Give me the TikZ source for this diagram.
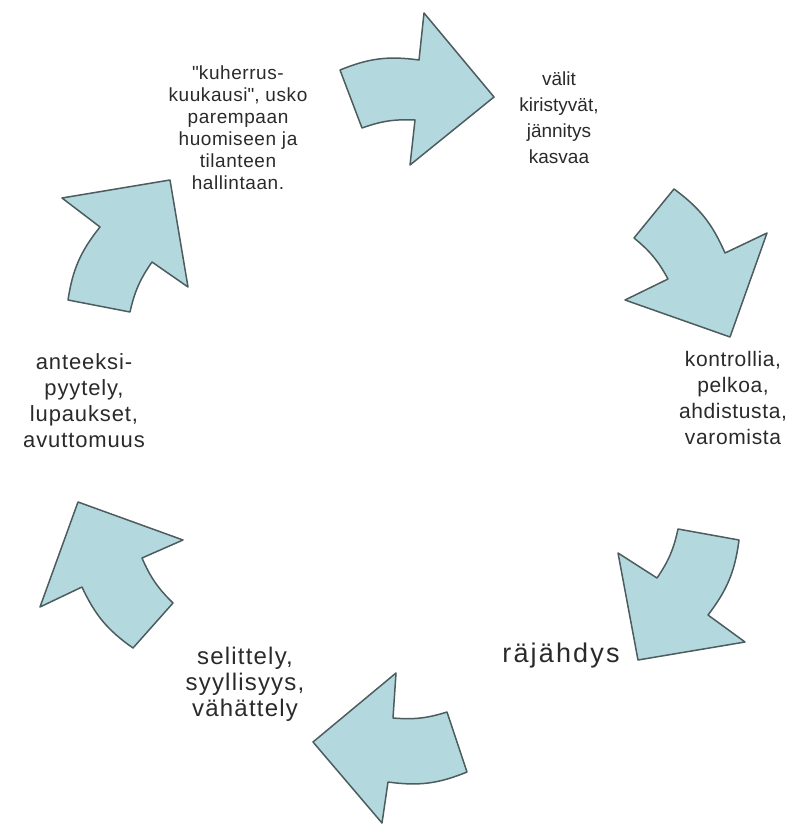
\documentclass[tikz,border=0pt]{standalone}
\usepackage{fontspec}
\setmainfont{Liberation Sans}
\definecolor{arrowc}{HTML}{B3D9DE}
\definecolor{edgec}{HTML}{4D5C5E}
\definecolor{textc}{HTML}{2A2A2A}
\tikzset{
  cyclearrow/.style ={draw=edgec,fill=arrowc,line width=1.5pt,line join=round},
  stage/.style      ={align=center,inner sep=0pt,text=textc,
                      font=\fontsize{20}{26}\selectfont},
  smallstage/.style ={stage,font=\fontsize{19}{22}\selectfont\addfontfeature{LetterSpace=3}},
}

\begin{document}
\begin{tikzpicture}[x=1pt,y=-1pt]
    \useasboundingbox (0,0) rectangle (793,826);

    % cycle arrows, clockwise from the top
    \draw[cyclearrow] (340,70) to[bend left=15] (419,60) -- (424,13) -- (494,97)
      -- (410,165) -- (415,120) to[bend right=11] (362,128) -- cycle;
    \draw[cyclearrow] (674,189) to[bend left=15] (725,253) -- (767,233) -- (730,337)
      -- (625,300) -- (668,279) to[bend right=11] (634,238) -- cycle;
    \draw[cyclearrow] (739,540) to[bend left=15] (708,615) -- (745,642) -- (638,660)
      -- (618,553) -- (657,578) to[bend right=11] (678,529) -- cycle;
    \draw[cyclearrow] (467,772) to[bend left=15] (388,782) -- (382,823) -- (313,742)
      -- (396,673) -- (393,718) to[bend right=11] (447,712) -- cycle;
    \draw[cyclearrow] (133,648) to[bend left=15] (82,587) -- (40,607) -- (78,502)
      -- (183,540) -- (142,558) to[bend right=11] (173,603) -- cycle;
    \draw[cyclearrow] (68,300) to[bend left=15] (100,227) -- (62,198) -- (170,180)
      -- (188,287) -- (152,262) to[bend right=11] (130,312) -- cycle;

    % stage labels
    \node[stage,font=\fontsize{19}{26}\selectfont] (tension) at (559,118)
      {välit\\kiristyvät,\\jännitys\\kasvaa};
    \node[stage,font=\fontsize{21}{26}\selectfont\addfontfeature{LetterSpace=3}] (fear) at (733,398)
      {kontrollia,\\pelkoa,\\ahdistusta,\\varomista};
    \node[stage,font=\fontsize{27}{26}\selectfont\addfontfeature{LetterSpace=8}] (burst) at (561,656) {räjähdys};
    \node[stage,font=\fontsize{24}{26}\selectfont\addfontfeature{LetterSpace=5}] (excuse) at (245,684)
      {selittely,\\syyllisyys,\\vähättely};
    \node[stage,font=\fontsize{22}{26}\selectfont\addfontfeature{LetterSpace=4}] (sorry) at (84,401)
      {anteeksi-\\pyytely,\\lupaukset,\\avuttomuus};
    \node[smallstage] (honeymoon) at (238,128)
      {\textquotedbl kuherrus-\\kuukausi\textquotedbl, usko\\parempaan\\huomiseen ja\\tilanteen\\hallintaan.};
\end{tikzpicture}
\end{document}
